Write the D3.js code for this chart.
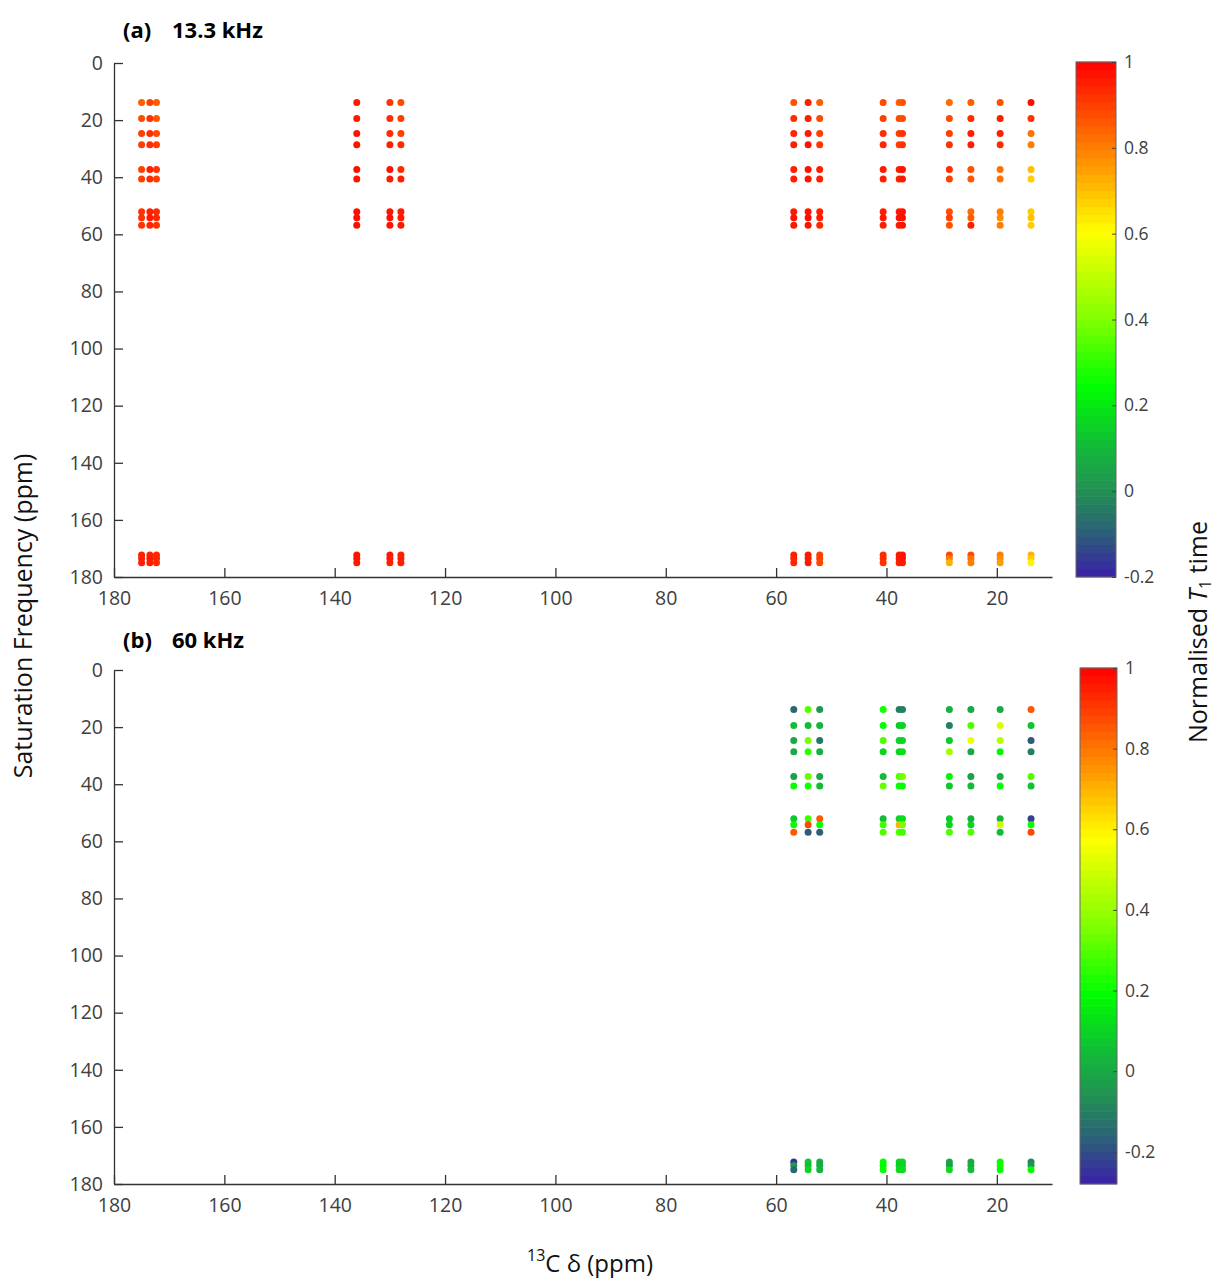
<!DOCTYPE html>
<html><head><meta charset="utf-8">
<script src="https://cdn.jsdelivr.net/npm/d3@7"></script>
<style>body{margin:0;background:#fff} svg{display:block} text{font-family:"Open Sans",sans-serif}</style>
</head><body><svg id="c" width="1215" height="1282"></svg>
<script>
// ---------- data ----------
const carbonShiftsA = [175.0, 173.5, 172.3, 136.0, 130.0, 128.0, 56.8, 54.2, 52.1, 40.6, 37.7, 37.1, 28.6, 24.7, 19.4, 13.8];
const carbonShiftsB = [56.8, 54.2, 52.1, 40.6, 37.7, 37.1, 28.6, 24.7, 19.4, 13.8];
const satFreqs = [13.8, 19.4, 24.7, 28.6, 37.3, 40.6, 52.1, 54.2, 56.8, 172.3, 173.5, 175.0];

// normalised T1, rows = saturation frequency, cols = carbon shift (13.3 kHz)
const t1_13kHz = [
 [0.85,0.90,0.85, 0.96, 0.92,0.88, 0.87,0.95,0.85, 0.88,0.85,0.87, 0.83,0.85,0.87,0.98],
 [0.88,0.92,0.86, 0.96, 0.93,0.90, 0.93,0.95,0.88, 0.90,0.88,0.88, 0.88,0.93,0.95,0.92],
 [0.90,0.93,0.88, 0.97, 0.93,0.90, 0.94,0.96,0.90, 0.93,0.90,0.92, 0.90,0.95,0.95,0.82],
 [0.90,0.93,0.90, 0.97, 0.95,0.93, 0.95,0.97,0.92, 0.94,0.90,0.92, 0.92,0.95,0.93,0.80],
 [0.90,0.95,0.92, 0.98, 0.97,0.93, 0.95,0.97,0.95, 0.96,0.95,0.97, 0.93,0.87,0.82,0.70],
 [0.90,0.93,0.90, 0.97, 0.96,0.95, 0.95,0.97,0.95, 0.95,0.95,0.96, 0.90,0.86,0.82,0.68],
 [0.92,0.95,0.93, 0.98, 0.97,0.96, 0.96,0.97,0.95, 0.95,0.96,0.97, 0.88,0.83,0.80,0.68],
 [0.92,0.96,0.94, 0.98, 0.97,0.96, 0.97,0.98,0.96, 0.96,0.97,0.98, 0.90,0.85,0.78,0.70],
 [0.92,0.94,0.92, 0.98, 0.97,0.96, 0.96,0.97,0.94, 0.95,0.96,0.97, 0.86,0.95,0.80,0.68],
 [0.95,0.95,0.94, 0.97, 0.96,0.95, 0.95,0.96,0.90, 0.93,0.96,0.97, 0.88,0.88,0.80,0.72],
 [0.95,0.96,0.94, 0.97, 0.96,0.95, 0.95,0.96,0.90, 0.93,0.96,0.97, 0.80,0.82,0.78,0.68],
 [0.95,0.95,0.93, 0.96, 0.95,0.95, 0.94,0.96,0.89, 0.92,0.95,0.96, 0.72,0.80,0.75,0.62]
];
// normalised T1 at 60 kHz
const t1_60kHz = [
 [-0.15, 0.30,-0.05, 0.22,-0.10,-0.10, 0.02, 0.00, 0.00, 0.85],
 [ 0.05, 0.05, 0.03, 0.20, 0.08, 0.10,-0.10, 0.30, 0.52, 0.07],
 [ 0.00, 0.35,-0.12, 0.30, 0.10, 0.10, 0.08, 0.55, 0.45,-0.18],
 [ 0.00, 0.25, 0.02, 0.10, 0.10, 0.12, 0.42, 0.00, 0.18,-0.10],
 [-0.02, 0.33, 0.00, 0.05, 0.30, 0.35, 0.18,-0.02, 0.02, 0.30],
 [ 0.20, 0.22, 0.05, 0.33, 0.20, 0.20, 0.08, 0.05, 0.20, 0.06],
 [ 0.08, 0.28, 0.85, 0.05, 0.10, 0.12, 0.08, 0.02, 0.03,-0.22],
 [ 0.20, 0.88, 0.20, 0.28, 0.70, 0.35, 0.10, 0.10, 0.50, 0.20],
 [ 0.85,-0.18,-0.17, 0.30, 0.30, 0.28, 0.30, 0.30, 0.05, 0.88],
 [-0.25, 0.08, 0.02, 0.20, 0.10, 0.10, 0.00, 0.00, 0.20,-0.08],
 [-0.05, 0.05, 0.00, 0.18, 0.08, 0.10,-0.03, 0.02, 0.22,-0.05],
 [-0.15, 0.10, 0.03, 0.20, 0.12, 0.12, 0.12, 0.05, 0.20, 0.20]
];

const xTicks = [180, 160, 140, 120, 100, 80, 60, 40, 20];
const yTicks = [0, 20, 40, 60, 80, 100, 120, 140, 160, 180];
const cbTicks = [-0.2, 0, 0.2, 0.4, 0.6, 0.8, 1];
const cbTickLabels = ["-0.2", "0", "0.2", "0.4", "0.6", "0.8", "1"];
const climA = [-0.2, 1];
const climB = [-0.28, 1];
const cmapStops  = [0, 0.08, 0.167, 0.25, 0.37, 0.5, 0.67, 0.83, 1];
const cmapColors = ["#3b1fa8", "#2d5b7c", "#229055", "#12b83a", "#00ff00", "#80ff00", "#ffff00", "#ff8000", "#ff0000"];

// ---------- drawing ----------
const svg = d3.select("#c");
const cmap = d3.scaleLinear().domain(cmapStops).range(cmapColors).clamp(true);

const x = d3.scaleLinear().domain([180, 10]).range([114, 1052]);

const panels = [
  {label: "(a)", title: "13.3 kHz", carbons: carbonShiftsA, values: t1_13kHz, clim: climA,
   y0: 63, y1: 577, titleY: 38, cb: {x0: 1076, x1: 1116, y0: 62, y1: 577}},
  {label: "(b)", title: "60 kHz", carbons: carbonShiftsB, values: t1_60kHz, clim: climB,
   y0: 670, y1: 1184, titleY: 648, cb: {x0: 1080, x1: 1117, y0: 668, y1: 1184}}
];

const axisCol = "#333";
const labCol = "#404040";

panels.forEach(p => {
  const y = d3.scaleLinear().domain([0, 180]).range([p.y0, p.y1]);
  const norm = d3.scaleLinear().domain(p.clim).range([0, 1]);
  const g = svg.append("g");

  // points
  const pts = [];
  p.values.forEach((row, i) => row.forEach((v, j) => pts.push({c: p.carbons[j], s: satFreqs[i], v})));
  g.append("g").selectAll("circle").data(pts).join("circle")
    .attr("cx", d => x(d.c)).attr("cy", d => y(d.s)).attr("r", 3.5)
    .attr("fill", d => cmap(norm(d.v)));

  // axes
  const ax = g.append("g").attr("transform", `translate(0,${p.y1})`)
    .call(d3.axisBottom(x).tickValues(xTicks).tickSizeInner(-9).tickSizeOuter(0).tickPadding(10));
  const ay = g.append("g").attr("transform", `translate(${x(180)},0)`)
    .call(d3.axisLeft(y).tickValues(yTicks).tickSizeInner(-9).tickSizeOuter(0).tickPadding(11));
  [ax, ay].forEach(a => {
    a.selectAll("path,line").attr("stroke", axisCol).attr("stroke-width", 1.3);
    a.selectAll("text").attr("fill", labCol).style("font-size", "19.5px").style("font-family", "'Open Sans',sans-serif");
  });
  ax.selectAll("text").attr("dy", "0.9em");

  // title
  g.append("text").attr("x", 123).attr("y", p.titleY).text(p.label)
    .style("font-weight", "bold").style("font-size", "22px").attr("fill", "#000");
  g.append("text").attr("x", 172).attr("y", p.titleY).text(p.title)
    .style("font-weight", "bold").style("font-size", "22px").attr("fill", "#000");

  // colorbar
  const cb = p.cb;
  const cy = d3.scaleLinear().domain(p.clim).range([cb.y1, cb.y0]);
  const nBands = 64;
  const bandVals = d3.range(nBands).map(k => p.clim[0] + (k + 0.5) * (p.clim[1] - p.clim[0]) / nBands);
  const bh = (cb.y1 - cb.y0) / nBands;
  g.append("g").selectAll("rect").data(bandVals).join("rect")
    .attr("x", cb.x0).attr("width", cb.x1 - cb.x0)
    .attr("y", d => cy(d) - bh / 2 - 0.3).attr("height", bh + 0.6)
    .attr("fill", d => cmap(norm(d)));
  g.append("rect").attr("x", cb.x0).attr("y", cb.y0).attr("width", cb.x1 - cb.x0).attr("height", cb.y1 - cb.y0)
    .attr("fill", "none").attr("stroke", "#666").attr("stroke-width", 1);
  const cax = g.append("g").attr("transform", `translate(${cb.x1},0)`)
    .call(d3.axisRight(cy).tickValues(cbTicks).tickSizeInner(-4).tickSizeOuter(0).tickPadding(8)
      .tickFormat((d, i) => cbTickLabels[i]));
  cax.select(".domain").remove();
  cax.selectAll("line").attr("stroke", "#444").attr("stroke-width", 1);
  cax.selectAll("text").attr("fill", labCol).style("font-size", "17.5px").style("font-family", "'Open Sans',sans-serif");
});

// axis labels
svg.append("text").attr("transform", "translate(32,616) rotate(-90)").attr("text-anchor", "middle")
  .style("font-size", "25px").attr("fill", "#111").text("Saturation Frequency (ppm)");

const xl = svg.append("text").attr("x", 590).attr("y", 1272).attr("text-anchor", "middle")
  .style("font-size", "24px").attr("fill", "#111");
xl.append("tspan").text("13").attr("baseline-shift", "super").style("font-size", "16px");
xl.append("tspan").text("C δ (ppm)");

const cl = svg.append("text").attr("transform", "translate(1207,632) rotate(-90)").attr("text-anchor", "middle")
  .style("font-size", "25px").attr("fill", "#111");
cl.append("tspan").text("Normalised ");
cl.append("tspan").text("T").style("font-style", "italic");
cl.append("tspan").text("1").attr("baseline-shift", "-4").style("font-size", "16px");
cl.append("tspan").text(" time");
</script></body></html>
